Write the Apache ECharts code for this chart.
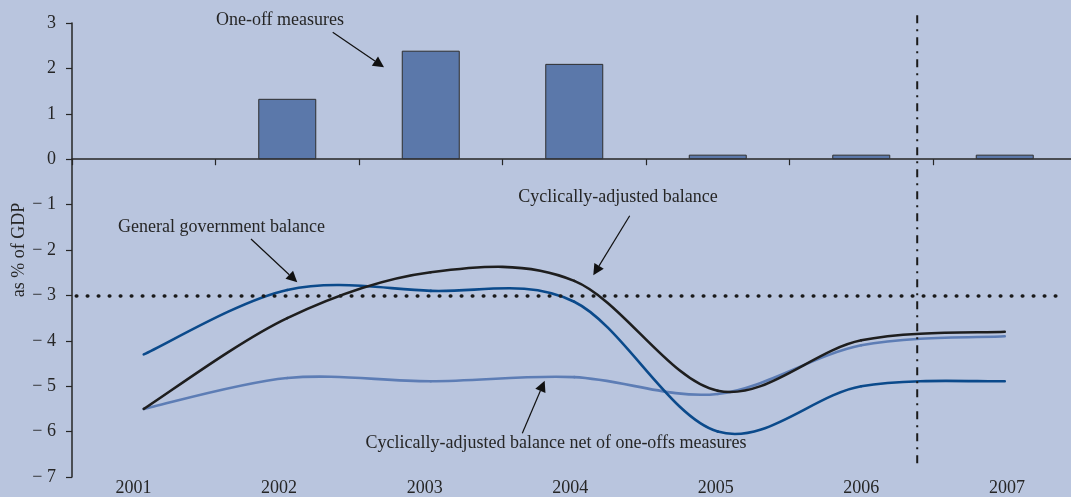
<!DOCTYPE html>
<html>
<head>
<meta charset="utf-8">
<script src="https://cdn.jsdelivr.net/npm/echarts@6/dist/echarts.min.js"></script>
<style>
  html, body { margin: 0; padding: 0; background: #b9c5de; }
  #chart { width: 1071px; height: 497px; }
</style>
</head>
<body>
<div id="chart"></div>
<script>
// Years on the horizontal axis
const years = ['2001', '2002', '2003', '2004', '2005', '2006', '2007'];

// One-off measures (bars), % of GDP
const oneOffs = [null, 1.33, 2.39, 2.1, 0.1, 0.1, 0.1];

// Balances (% of GDP)
const generalBalance = [-4.3, -2.88, -2.9, -3.14, -6.0, -5.0, -4.89];
const cyclicalBalance = [-5.5, -3.5, -2.49, -2.68, -5.1, -3.99, -3.8];
const cyclicalNetOneOffs = [-5.5, -4.82, -4.89, -4.8, -5.17, -4.1, -3.9];

// Reference levels
const deficitLimit = -3;        // 3% threshold
const forecastBreak = 5.39;     // position (in category units) separating outturn from forecast

const yMin = -7, yMax = 3, yStep = 1;

const FONT = '"Liberation Serif", "Times New Roman", serif';
const INK = '#262626';

const chart = echarts.init(document.getElementById('chart'), null, { renderer: 'canvas' });

function arrow(id, x1, y1, x2, y2) {
  const dx = x2 - x1, dy = y2 - y1;
  const len = Math.sqrt(dx * dx + dy * dy);
  const ux = dx / len, uy = dy / len;
  const hl = 11, hw = 5.5;
  const bx = x2 - ux * hl, by = y2 - uy * hl;
  return {
    id: id, type: 'group',
    silent: true,
    children: [
      { type: 'line', shape: { x1: x1, y1: y1, x2: bx, y2: by }, style: { stroke: '#111', lineWidth: 1.2 } },
      { type: 'polygon', shape: { points: [[x2, y2], [bx - uy * hw, by + ux * hw], [bx + uy * hw, by - ux * hw]] }, style: { fill: '#111' } }
    ]
  };
}

function note(id, text, cx, cy) {
  return {
    id: id, type: 'text', silent: true, x: cx, y: cy,
    style: { text: text, fill: INK, font: '18px ' + FONT, textAlign: 'center', textVerticalAlign: 'middle' }
  };
}

// Smoothed balance line: each year draws the Catmull-Rom segment to the next year,
// positioned through the grid's category / value axes.
function splineSeries(name, values, color, z) {
  const n = values.length;
  return {
    type: 'custom', name: name, xAxisIndex: 0, yAxisIndex: 0, z: z, silent: true,
    data: values.map((v, i) => [i, v]),
    encode: { x: 0, y: 1 },
    renderItem: function (params, api) {
      const i = params.dataIndex;
      if (i >= n - 1) return null;
      const pt = k => {
        const j = Math.max(0, Math.min(n - 1, k));
        return api.coord([j, values[j]]);
      };
      const p0 = pt(i - 1), p1 = pt(i), p2 = pt(i + 1), p3 = pt(i + 2);
      return {
        type: 'bezierCurve',
        shape: {
          x1: p1[0], y1: p1[1], x2: p2[0], y2: p2[1],
          cpx1: p1[0] + (p2[0] - p0[0]) / 6, cpy1: p1[1] + (p2[1] - p0[1]) / 6,
          cpx2: p2[0] - (p3[0] - p1[0]) / 6, cpy2: p2[1] - (p3[1] - p1[1]) / 6
        },
        style: { stroke: color, lineWidth: 2.6, fill: null, lineCap: 'round' }
      };
    }
  };
}

chart.setOption({
  backgroundColor: '#b9c5de',
  animation: false,
  grid: [
    { left: 72, top: 23, width: 1004.5, height: 454, containLabel: false, outerBoundsMode: 'none' },
    { left: 60.7, top: 23, width: 1019, height: 454, containLabel: false, outerBoundsMode: 'none' }
  ],
  xAxis: [
    {
      type: 'category', gridIndex: 0, data: years, boundaryGap: true,
      axisLine: { onZero: true, lineStyle: { color: INK, width: 1.5 } },
      axisTick: { show: true, length: 6, lineStyle: { color: INK, width: 1.2 } },
      axisLabel: { show: false },
      splitLine: { show: false }
    },
    {
      type: 'value', gridIndex: 0, min: -0.5, max: 6.5, show: false
    },
    {
      type: 'category', gridIndex: 1, data: years, boundaryGap: true,
      axisLine: { show: false }, axisTick: { show: false },
      axisLabel: { color: INK, fontFamily: FONT, fontSize: 18, margin: 2 }
    }
  ],
  yAxis: [
    {
      type: 'value', gridIndex: 0, min: yMin, max: yMax, interval: yStep,
      name: 'as % of GDP', nameLocation: 'middle', nameGap: 44, nameRotate: 90,
      nameMoveOverlap: false,
      nameTextStyle: { color: INK, fontFamily: FONT, fontSize: 18 },
      axisLine: { show: true, onZero: false, lineStyle: { color: INK, width: 1.5 } },
      axisTick: { show: true, length: 6, lineStyle: { color: INK, width: 1.2 } },
      axisLabel: {
        color: INK, fontFamily: FONT, fontSize: 18, margin: 16,
        formatter: v => (v < 0 ? '\u2212 ' + Math.abs(v) : String(v))
      },
      splitLine: { show: false }
    },
    { type: 'value', gridIndex: 1, min: yMin, max: yMax, show: false }
  ],
  series: [
    {
      name: 'One-off measures', type: 'bar', xAxisIndex: 0, yAxisIndex: 0,
      data: oneOffs, barWidth: 58, silent: true,
      itemStyle: { color: '#5b78aa', borderColor: '#2e2e2e', borderWidth: 1 }
    },
    splineSeries('Cyclically-adjusted balance net of one-offs measures', cyclicalNetOneOffs, '#5d7db5', 3),
    splineSeries('General government balance', generalBalance, '#0b4a8b', 4),
    splineSeries('Cyclically-adjusted balance', cyclicalBalance, '#1e1e1e', 5),
    {
      name: 'deficit limit', type: 'line', xAxisIndex: 1, yAxisIndex: 0, data: [],
      silent: true,
      markLine: {
        silent: true, symbol: ['none', 'none'], label: { show: false }, animation: false,
        data: [
          [
            { coord: [-0.47, deficitLimit], lineStyle: { color: '#1a1a1a', width: 3.6, type: [0.5, 10.5], cap: 'round' } },
            { coord: [6.36, deficitLimit] }
          ]
        ]
      }
    }
  ],
  graphic: [
    note('n-oneoff', 'One-off measures', 280, 20),
    arrow('a-oneoff', 332.7, 32.3, 384, 67.3),
    note('n-gg', 'General government balance', 221.5, 227),
    arrow('a-gg', 251, 239, 297.3, 282.3),
    note('n-ca', 'Cyclically-adjusted balance', 618, 197.5),
    arrow('a-ca', 629.7, 215.7, 593.3, 275.3),
    note('n-net', 'Cyclically-adjusted balance net of one-offs measures', 556, 443),
    arrow('a-net', 522.3, 433.3, 544.7, 380.7)
  ]
});

// Dash-dot separator between outturn and forecast, placed through the axes' own scales
const breakTop = chart.convertToPixel({ xAxisIndex: 1, yAxisIndex: 0 }, [forecastBreak, yMax + 0.17]);
const breakBottom = chart.convertToPixel({ xAxisIndex: 1, yAxisIndex: 0 }, [forecastBreak, yMin + 0.2]);
chart.setOption({
  graphic: [{
    id: 'forecast-break', type: 'line', silent: true, z: 10,
    shape: { x1: breakTop[0], y1: breakTop[1], x2: breakBottom[0], y2: breakBottom[1] },
    style: { stroke: '#1a1a1a', lineWidth: 2, lineDash: [8, 6, 2, 6] }
  }]
});
</script>
</body>
</html>
